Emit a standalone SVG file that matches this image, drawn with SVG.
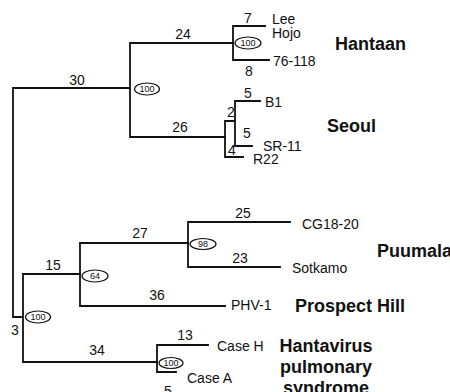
<svg xmlns="http://www.w3.org/2000/svg" width="450" height="392" viewBox="0 0 450 392">
<style>
.e{fill:none;stroke:#111;stroke-width:1.8;stroke-linecap:square}
.bl{font-family:"Liberation Sans",Arial,sans-serif;font-size:14px;fill:#111;text-anchor:middle}
.lf{font-family:"Liberation Sans",Arial,sans-serif;font-size:14px;fill:#111}
.cl{font-family:"Liberation Sans",Arial,sans-serif;font-size:18px;font-weight:bold;fill:#111}
.bs ellipse{fill:#fff;stroke:#111;stroke-width:1.2}
.bs text{font-family:"Liberation Sans",Arial,sans-serif;font-size:9px;fill:#111;text-anchor:middle}
</style>
<rect width="450" height="392" fill="#fff"/>
<g id="connectors">
<path class="e" d="M130,88 H13 V317 H23"/>
<path class="e" d="M233,43 H130 V137 H225"/>
<path class="e" d="M265,26 H233 V60 H269"/>
<path class="e" d="M235,121 H225 V157 H243"/>
<path class="e" d="M260,101 H235 V146 H252"/>
<path class="e" d="M80,274 H23 V362 H157"/>
<path class="e" d="M188,243 H80 V306 H225"/>
<path class="e" d="M290,222 H188 V267 H280"/>
<path class="e" d="M208,345 H157 V372 H176"/>
</g>
<g id="branch-lengths">
<text class="bl" x="77" y="85">30</text>
<text class="bl" x="183" y="39">24</text>
<text class="bl" x="180" y="132">26</text>
<text class="bl" x="248" y="23">7</text>
<text class="bl" x="249" y="76">8</text>
<text class="bl" x="231" y="117">2</text>
<text class="bl" x="248" y="98">5</text>
<text class="bl" x="247" y="138">5</text>
<text class="bl" x="232" y="155">4</text>
<text class="bl" x="53" y="270">15</text>
<text class="bl" x="140" y="238">27</text>
<text class="bl" x="157" y="300">36</text>
<text class="bl" x="243" y="218">25</text>
<text class="bl" x="240" y="263">23</text>
<text class="bl" x="15" y="335">3</text>
<text class="bl" x="97" y="355">34</text>
<text class="bl" x="185" y="340">13</text>
<text class="bl" x="168" y="396">5</text>
</g>
<g id="node-hantaan-seoul" class="bs"><ellipse cx="147" cy="89" rx="12.5" ry="6"/><text x="147" y="92">100</text></g>
<g id="node-hantaan" class="bs"><ellipse cx="248" cy="43" rx="13" ry="6"/><text x="248" y="46">100</text></g>
<g id="node-root" class="bs"><ellipse cx="38" cy="317" rx="12.5" ry="6"/><text x="38" y="320">100</text></g>
<g id="node-pp" class="bs"><ellipse cx="95" cy="276" rx="13" ry="6"/><text x="95" y="279">64</text></g>
<g id="node-puumala" class="bs"><ellipse cx="203" cy="244" rx="13" ry="5.5"/><text x="203" y="247">98</text></g>
<g id="node-hps" class="bs"><ellipse cx="171" cy="363" rx="12" ry="5.5"/><text x="171" y="366">100</text></g>
<g id="leaf-lee"><text class="lf" x="272" y="24">Lee</text></g>
<g id="leaf-hojo"><text class="lf" x="272" y="38">Hojo</text></g>
<g id="leaf-76-118"><text class="lf" x="273" y="66">76-118</text></g>
<g id="leaf-b1"><text class="lf" x="265" y="107">B1</text></g>
<g id="leaf-sr11"><text class="lf" x="263" y="151">SR-11</text></g>
<g id="leaf-r22"><text class="lf" x="253" y="164">R22</text></g>
<g id="leaf-cg"><text class="lf" x="302" y="229">CG18-20</text></g>
<g id="leaf-sotkamo"><text class="lf" x="292" y="273">Sotkamo</text></g>
<g id="leaf-phv"><text class="lf" x="231" y="310">PHV-1</text></g>
<g id="leaf-caseh"><text class="lf" x="217" y="351">Case H</text></g>
<g id="leaf-casea"><text class="lf" x="187" y="383">Case A</text></g>
<g id="clade-labels">
<text class="cl" x="335" y="50">Hantaan</text>
<text class="cl" x="327" y="132">Seoul</text>
<text class="cl" x="377" y="257">Puumala</text>
<text class="cl" x="295" y="312">Prospect Hill</text>
<text class="cl" x="326" y="352" text-anchor="middle">Hantavirus</text>
<text class="cl" x="326" y="373" text-anchor="middle">pulmonary</text>
<text class="cl" x="326" y="394" text-anchor="middle">syndrome</text>
</g>
</svg>
